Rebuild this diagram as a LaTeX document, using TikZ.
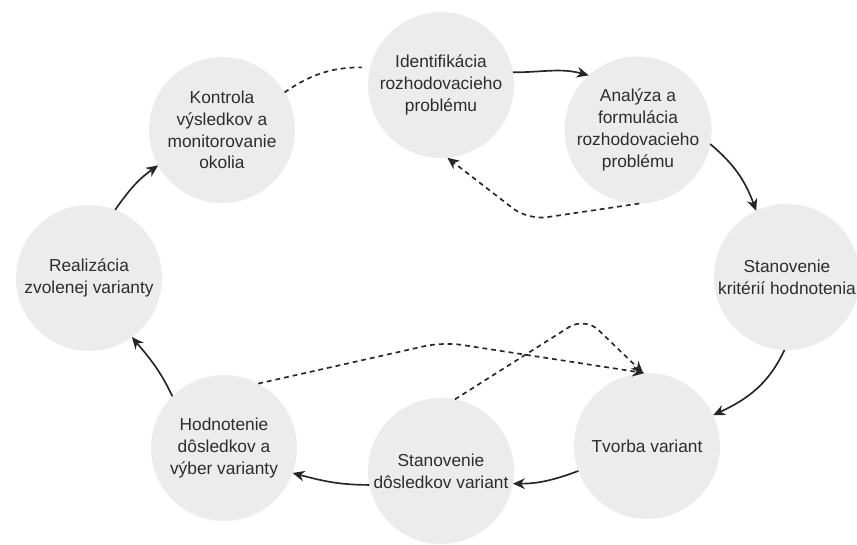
\documentclass[tikz,border=0pt]{standalone}
\usepackage{fontspec}
\setmainfont{Liberation Sans}
\usetikzlibrary{arrows.meta}
\definecolor{krg}{RGB}{236,236,236}
\definecolor{txt}{RGB}{45,45,45}

\begin{document}
\begin{tikzpicture}[x=0.75pt,y=0.75pt,>={Stealth[length=9pt,width=8pt]},
  krok/.style={circle,fill=krg,minimum size=109.5pt,inner sep=0pt,outer sep=0pt,align=center,text=txt,
    font=\fontsize{13}{16.3}\selectfont},
  pot/.style={->,line width=1.25pt,black!85},
  ret/.style={line width=1.25pt,black!85,dash pattern=on 3.6pt off 3pt,rounded corners=14pt}]
  \useasboundingbox (0,0) rectangle (857,-544);
  % kroky rozhodovacieho procesu
  \node[krok] (ident) at (441,-85) {Identifikácia\\rozhodovacieho\\problému};
  \node[krok] (ana) at (638,-130) {Analýza a\\formulácia\\rozhodovacieho\\problému};
  \node[krok] (krit) at (787,-277) {Stanovenie\\kritérií hodnotenia};
  \node[krok] (tvor) at (647,-446) {Tvorba variant};
  \node[krok] (dosl) at (441,-471) {Stanovenie\\dôsledkov variant};
  \node[krok] (hodn) at (224,-448) {Hodnotenie\\dôsledkov a\\výber varianty};
  \node[krok] (real) at (89,-278) {Realizácia\\zvolenej varianty};
  \node[krok] (kontr) at (222,-130) {Kontrola\\výsledkov a\\monitorovanie\\okolia};
  % zlomy spatnych vazieb
  \coordinate (z1) at (528,-220);
  \coordinate (z2) at (443,-342);
  \coordinate (z3) at (585,-317);
  % hlavny cyklus
  \draw[pot] (ident.10) to[out=0,in=165] (ana.132);
  \draw[pot] (ana.-11) to[out=-40,in=110] (krit.115);
  \draw[pot] (krit.-92) to[out=-115,in=25] (tvor.25);
  \draw[pot] (tvor.200) to[out=200,in=0] (dosl.-10);
  \draw[pot] (dosl.191) to[out=180,in=-15] (hodn.-20);
  \draw[pot] (hodn.135) to[out=115,in=-50] (real.-54);
  \draw[pot] (real.69) to[out=55,in=215] (kontr.209);
  % spatne vazby
  \draw[ret,shorten >=6pt] (kontr.31) to[out=35,in=180] (ident.166);
  \draw[ret,->] (ana.-89) -- (z1) -- (ident.-85);
  \draw[ret,->] (hodn.62) -- (z2) -- (tvor.92);
  \draw[ret,->] (dosl.79) -- (z3) -- (tvor.93);
\end{tikzpicture}
\end{document}
